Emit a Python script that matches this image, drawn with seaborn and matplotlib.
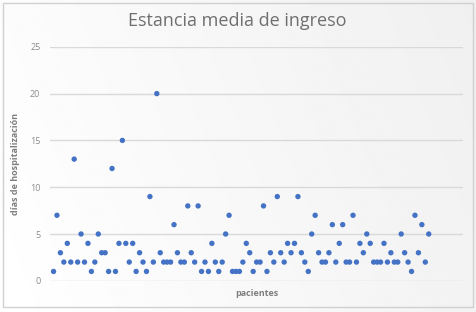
import numpy as np
import pandas as pd
import seaborn as sns
import matplotlib.pyplot as plt
from matplotlib.patches import Rectangle

# -------------------------------
# Data
# -------------------------------
dias = [
    1, 7, 3, 2, 4, 2, 13, 2, 5, 2, 4, 1, 2, 5, 3, 3, 1, 12, 1, 4,
    15, 4, 2, 4, 1, 3, 2, 1, 9, 2, 20, 3, 2, 2, 2, 6, 3, 2, 2, 8,
    3, 2, 8, 1, 2, 1, 4, 2, 1, 2, 5, 7, 1, 1, 1, 2, 4, 3, 1, 2,
    2, 8, 1, 3, 2, 9, 3, 2, 4, 3, 4, 9, 3, 2, 1, 5, 7, 3, 2, 2,
    3, 6, 2, 4, 6, 2, 2, 7, 2, 4, 3, 5, 4, 2, 2, 2, 4, 2, 3, 2,
    2, 5, 3, 2, 1, 7, 3, 6, 2, 5,
]
pacientes = list(range(1, len(dias) + 1))

titulo = "Estancia media de ingreso"
etiqueta_x = "pacientes"
etiqueta_y = "días de hospitalización"
y_ticks = [0, 5, 10, 15, 20, 25]

df = pd.DataFrame({"paciente": pacientes, "dias": dias})

# -------------------------------
# Style
# -------------------------------
sns.set_style("white")
plt.rcParams['font.family'] = ['Open Sans', 'DejaVu Sans']

fig = plt.figure(figsize=(4.77, 3.12), dpi=100)

# soft gradient background + frame, like the Excel chart area
bg = fig.add_axes([0, 0, 1, 1], zorder=-10)
gx, gy = np.meshgrid(np.linspace(0, 1, 200), np.linspace(0, 1, 200))
grad = 1 - 0.06 * np.clip((gx * 0.8 + (1 - gy) * 0.2), 0, 1)
bg.imshow(grad, cmap="gray", vmin=0, vmax=1, aspect="auto", extent=[0, 1, 0, 1])
bg.add_patch(Rectangle((0.006, 0.016), 0.986, 0.975, fill=False,
                       edgecolor="#d0d0d0", linewidth=1.0))
bg.set_xlim(0, 1)
bg.set_ylim(0, 1)
bg.axis("off")

ax = fig.add_axes([0.105, 0.100, 0.866, 0.750])
ax.patch.set_alpha(0)

sns.scatterplot(data=df, x="paciente", y="dias", ax=ax, color="#4472C4",
                s=15, edgecolor="none", zorder=3)

ax.set_xlim(0, 120)
ax.set_ylim(0, 25)
ax.set_yticks(y_ticks)
ax.set_xticks([])
ax.grid(axis="y", color="#d9d9d9", linewidth=1.0)
ax.set_axisbelow(True)
for s in ax.spines.values():
    s.set_visible(False)
ax.tick_params(axis="y", length=0, labelsize=6.5, labelcolor="#8c8c8c", pad=7)

ax.set_xlabel(etiqueta_x, fontsize=6.5, color="#7f7f7f", fontweight="bold", labelpad=6)
ax.set_ylabel(etiqueta_y, fontsize=6.5, color="#7f7f7f", fontweight="bold", labelpad=7)
fig.text(0.497, 0.933, titulo, ha="center", va="center", fontsize=13, color="#6f6f6f")

plt.savefig("out.png", dpi=100)
plt.close()
